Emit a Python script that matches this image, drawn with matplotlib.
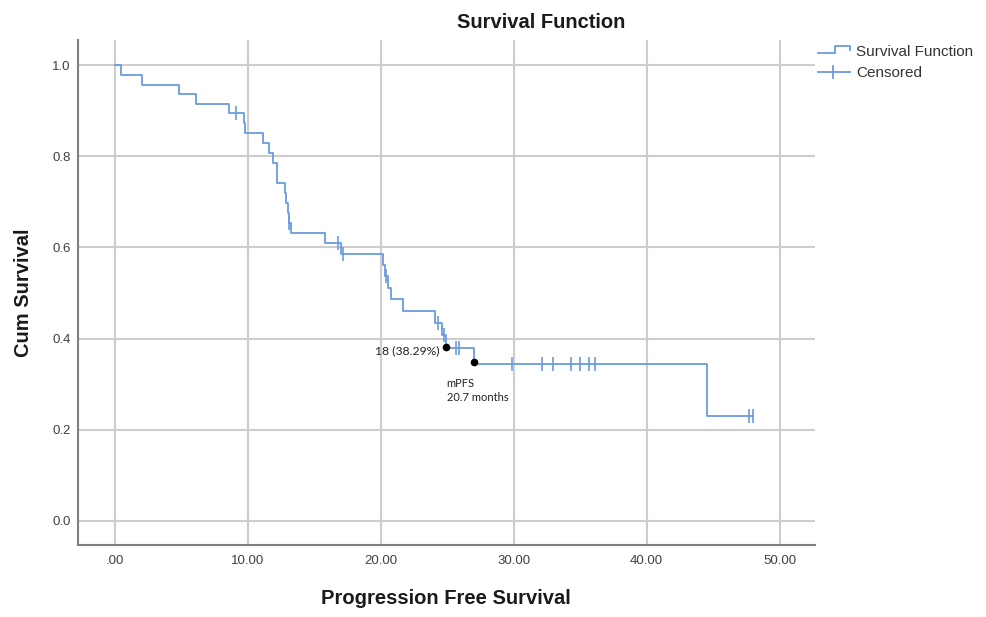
import matplotlib
matplotlib.use("Agg")
import matplotlib.pyplot as plt
from matplotlib.lines import Line2D

# ---- data ----
step_times = [0.0, 0.43, 2.05, 4.85, 6.1, 8.6, 9.7, 9.8, 11.15, 11.55, 11.85,
              12.15, 12.79, 12.9, 13.0, 13.09, 13.24, 15.8, 17.0, 20.2, 20.3, 20.56,
              20.74, 21.7, 24.1, 24.58, 24.9, 27.04, 44.52, 48.03]
step_surv = [1.0, 0.979, 0.957, 0.936, 0.915, 0.894, 0.872, 0.850, 0.828, 0.806, 0.785,
             0.741, 0.720, 0.698, 0.676, 0.654, 0.632, 0.609, 0.586, 0.562, 0.537, 0.511,
             0.486, 0.460, 0.434, 0.408, 0.379, 0.345, 0.230, 0.230]

censor_times = [9.1, 13.12, 16.76, 17.18, 20.39, 24.33, 24.76, 25.66, 25.91,
                29.9, 32.15, 32.98, 34.29, 34.99, 35.69, 36.12, 47.73, 48.03]
censor_surv = [0.894, 0.654, 0.609, 0.586, 0.537, 0.434, 0.408, 0.379, 0.379,
               0.345, 0.345, 0.345, 0.345, 0.345, 0.345, 0.345, 0.230, 0.230]

annot_points_x = [24.9, 27.04]
annot_points_y = [0.382, 0.349]
annot_label_1 = "18 (38.29%)"
annot_label_2 = "mPFS\n20.7 months"

x_ticks = [0, 10, 20, 30, 40, 50]
x_tick_labels = [".00", "10.00", "20.00", "30.00", "40.00", "50.00"]
y_ticks = [0.0, 0.2, 0.4, 0.6, 0.8, 1.0]
y_tick_labels = ["0.0", "0.2", "0.4", "0.6", "0.8", "1.0"]

title = "Survival Function"
x_label = "Progression Free Survival"
y_label = "Cum Survival"
legend_labels = ["Survival Function", "Censored"]

# ---- figure ----
W, H = 986, 617
fig = plt.figure(figsize=(W / 100, H / 100), dpi=100)
def F(x, y):
    return (x / W, 1 - y / H)

left_px, right_px, top_px, bot_px = 77.7, 815, 40, 545
ax = fig.add_axes([left_px / W, 1 - bot_px / H, (right_px - left_px) / W, (bot_px - top_px) / H])

blue = "#6a9bdc"
ax.step(step_times, step_surv, where="post", color=blue, lw=1.3, zorder=3)
ax.plot(censor_times, censor_surv, linestyle="none", marker="|", ms=10, mew=1.2,
        color=blue, zorder=3)

ax.plot(annot_points_x, annot_points_y, "o", color="black", ms=4.5, zorder=4)
ax.text(annot_points_x[0] - 0.45, annot_points_y[0] - 0.01, annot_label_1,
        ha="right", va="center", fontsize=8.7, family="Lato", color="#222222")
ax.text(annot_points_x[0] + 0.05, annot_points_y[1] - 0.035, annot_label_2,
        ha="left", va="top", fontsize=8, family="Lato", color="#222222",
        linespacing=1.35)

ax.set_xlim(-2.81, 52.67)
ax.set_ylim(-0.053, 1.055)
ax.set_xticks(x_ticks)
ax.set_xticklabels(x_tick_labels)
ax.set_yticks(y_ticks)
ax.set_yticklabels(y_tick_labels)
ax.tick_params(length=0, labelsize=9.5, labelcolor="#404040")
ax.tick_params(axis="x", pad=7)
ax.tick_params(axis="y", pad=5)
for lab in ax.get_xticklabels() + ax.get_yticklabels():
    lab.set_family("Liberation Sans")

ax.grid(True, color="#cdcdcd", lw=1.5)
ax.set_axisbelow(True)
for s in ["top", "right"]:
    ax.spines[s].set_visible(False)
for s in ["left", "bottom"]:
    ax.spines[s].set_color("#808080")
    ax.spines[s].set_linewidth(1.5)

ax.set_xlabel(x_label, fontsize=14.5, fontweight="bold", family="Liberation Sans", color="#1a1a1a")
ax.xaxis.label.set_va("center")
ax.xaxis.set_label_coords(0.5, (bot_px - 598) / (bot_px - top_px))
ax.set_ylabel(y_label, fontsize=14.5, fontweight="bold", family="Liberation Sans", color="#1a1a1a")
ax.yaxis.label.set_va("center")
ax.yaxis.set_label_coords((24 - left_px) / (right_px - left_px), 0.5)

fig.text(*F(541, 22), title, ha="center", va="center", fontsize=14.5,
         fontweight="bold", family="Liberation Sans", color="#1a1a1a")

# ---- legend (drawn manually) ----
def fig_line(xs, ys, **kw):
    pts = [F(x, y) for x, y in zip(xs, ys)]
    fig.add_artist(Line2D([p[0] for p in pts], [p[1] for p in pts],
                          transform=fig.transFigure, **kw))

fig_line([818, 835, 835, 850, 850], [53.3, 53.3, 46, 46, 50], color=blue, lw=1.3)
fig.text(*F(856, 52), legend_labels[0], ha="left", va="center", fontsize=11,
         family="Liberation Sans", color="#333333")
fig_line([818, 850], [71.7, 71.7], color=blue, lw=1.3)
fig_line([833, 833], [66, 78], color=blue, lw=1.3)
fig.text(*F(856, 73), legend_labels[1], ha="left", va="center", fontsize=11,
         family="Liberation Sans", color="#333333")

fig.savefig("out.png", dpi=100)
